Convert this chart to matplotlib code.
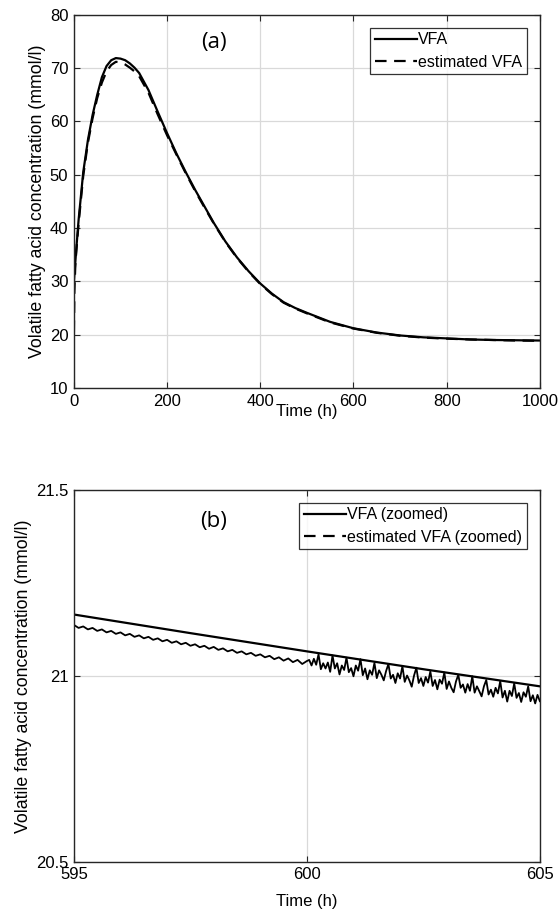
import matplotlib
matplotlib.use("Agg")
import matplotlib.pyplot as plt
from matplotlib.lines import Line2D

# (a) full run, 0-1000 h
t_full = [0, 5, 10, 20, 30, 40, 50, 60, 70, 80, 90, 100, 110, 120, 130, 140,
          160, 180, 200, 220, 240, 260, 280, 300, 325, 350, 375, 400, 425,
          450, 475, 500, 550, 600, 650, 700, 750, 800, 850, 900, 950, 1000]
vfa_full = [30.0, 36.0, 41.5, 50.5, 56.5, 61.2, 65.0, 68.3, 70.4, 71.5, 71.9,
            71.8, 71.5, 70.9, 70.1, 69.1, 65.9, 61.8, 57.8, 54.0, 50.5, 47.2,
            44.1, 41.0, 37.5, 34.5, 31.9, 29.6, 27.7, 26.1, 25.0, 24.1, 22.4,
            21.2, 20.4, 19.85, 19.5, 19.3, 19.1, 19.0, 18.95, 18.9]

t_est = [0, 1, 3, 5, 10, 20, 30, 40, 50, 60, 70, 80, 90, 100, 110, 120, 130,
         140, 160, 180, 200, 220, 240, 260, 280, 300, 325, 350, 375, 400, 425,
         450, 475, 500, 550, 600, 650, 700, 750, 800, 850, 900, 950, 1000]
vfa_est = [20.5, 28.0, 33.0, 35.5, 40.8, 49.8, 56.0, 60.6, 64.4, 67.3, 69.4,
           70.6, 71.2, 71.1, 70.7, 70.1, 69.4, 68.5, 65.4, 61.3, 57.4, 53.8,
           50.3, 47.0, 43.9, 40.9, 37.4, 34.4, 31.8, 29.5, 27.6, 26.0, 24.9,
           24.0, 22.3, 21.15, 20.35, 19.8, 19.45, 19.25, 19.1, 19.0, 18.9, 18.85]

# (b) zoom, 595-605 h
t_zoom = [595, 597.5, 600, 602.5, 605]
vfa_zoom = [21.165, 21.115, 21.066, 21.018, 20.972]

# estimate before 600 h, every 0.1 h
t_est_z1 = [595 + k / 10 for k in range(51)]
vfa_est_z1 = [21.137, 21.129, 21.133, 21.125, 21.129, 21.121, 21.125, 21.117,
              21.121, 21.113, 21.117, 21.109, 21.113, 21.105, 21.109, 21.101,
              21.105, 21.097, 21.101, 21.093, 21.097, 21.089, 21.093, 21.085,
              21.089, 21.081, 21.085, 21.077, 21.081, 21.073, 21.078, 21.070,
              21.074, 21.066, 21.070, 21.062, 21.066, 21.058, 21.062, 21.054,
              21.058, 21.050, 21.054, 21.045, 21.050, 21.041, 21.047, 21.037,
              21.043, 21.032, 21.040]

# estimate after 600 h, every 0.05 h
t_est_z2 = [600 + k / 20 for k in range(1, 101)]
vfa_est_z2 = [21.043, 21.028, 21.046, 21.030, 21.058, 21.018, 21.034, 21.020,
              21.036, 21.011, 21.055, 21.020, 21.034, 21.004, 21.028, 21.016,
              21.049, 21.010, 21.021, 20.999, 21.028, 21.014, 21.045, 21.002,
              21.020, 20.991, 21.015, 21.003, 21.035, 20.994, 21.015, 21.003,
              20.988, 21.013, 21.032, 20.993, 21.003, 20.981, 21.007, 20.993,
              21.026, 20.984, 21.001, 20.988, 20.971, 21.001, 21.022, 20.981,
              20.994, 20.973, 20.997, 20.982, 21.012, 20.973, 20.989, 20.964,
              20.990, 20.979, 21.009, 20.965, 20.985, 20.968, 20.956, 20.985,
              21.003, 20.968, 20.977, 20.955, 20.978, 20.960, 20.999, 20.955,
              20.972, 20.959, 20.945, 20.972, 20.989, 20.950, 20.963, 20.944,
              20.968, 20.953, 20.986, 20.942, 20.960, 20.931, 20.960, 20.946,
              20.980, 20.941, 20.954, 20.930, 20.956, 20.944, 20.972, 20.932,
              20.948, 20.926, 20.949, 20.932]

plt.rcParams['font.family'] = ['Liberation Sans', 'DejaVu Sans']

fig = plt.figure(figsize=(5.6, 9.15), dpi=100)
ax1 = fig.add_axes([0.132, 0.576, 0.832, 0.4077])
ax2 = fig.add_axes([0.132, 0.058, 0.832, 0.4066])

spine_col = '#262626'
grid_col = '#d9d9d9'
dash = (5.2, 3.4)


def style_axes(ax, xpad):
    for s in ax.spines.values():
        s.set_color(spine_col)
        s.set_linewidth(1.0)
    ax.tick_params(direction='in', top=True, right=True, length=4,
                   width=0.8, color=spine_col, labelsize=12, pad=4)
    ax.grid(True, color=grid_col, linewidth=0.9)
    ax.set_axisbelow(True)
    ax.set_xlabel('Time (h)', fontsize=12, labelpad=xpad)
    ax.set_ylabel('Volatile fatty acid concentration (mmol/l)', fontsize=12.8,
                  labelpad=3)


def add_legend(ax, labels):
    handles = [Line2D([], [], color='black', linewidth=1.6),
               Line2D([], [], color='black', linewidth=1.6, dashes=dash)]
    leg = ax.legend(handles, labels, loc='upper right', fontsize=11.5,
                    frameon=True, fancybox=False, edgecolor='black',
                    handlelength=2.6, handletextpad=0.1, borderpad=0.3,
                    labelspacing=0.45, borderaxespad=0.8)
    leg.get_frame().set_linewidth(0.9)


# (a)
ax1.plot(t_full, vfa_full, color='black', linewidth=1.6)
ax1.plot(t_est, vfa_est, color='black', linewidth=1.6, dashes=dash)
ax1.set_xlim(0, 1000)
ax1.set_ylim(10, 80)
ax1.set_xticks([0, 200, 400, 600, 800, 1000])
ax1.set_yticks([10, 20, 30, 40, 50, 60, 70, 80])
style_axes(ax1, -3)
ax1.text(0.30, 0.925, '(a)', transform=ax1.transAxes, ha='center',
         va='center', fontsize=16, family=['Open Sans', 'DejaVu Sans'])
add_legend(ax1, ['VFA', 'estimated VFA'])

# (b) - the noisy estimate reads as a solid jagged trace at this scale
ax2.plot(t_zoom, vfa_zoom, color='black', linewidth=1.6)
ax2.plot(t_est_z1 + t_est_z2, vfa_est_z1 + vfa_est_z2, color='black',
         linewidth=1.3)
ax2.set_xlim(595, 605)
ax2.set_ylim(20.5, 21.5)
ax2.set_xticks([595, 600, 605])
ax2.set_yticks([20.5, 21, 21.5])
ax2.set_yticklabels(['20.5', '21', '21.5'])
style_axes(ax2, 8)
ax2.text(0.30, 0.914, '(b)', transform=ax2.transAxes, ha='center',
         va='center', fontsize=16, family=['Open Sans', 'DejaVu Sans'])
add_legend(ax2, ['VFA (zoomed)', 'estimated VFA (zoomed)'])

fig.savefig('out.png', dpi=100)
